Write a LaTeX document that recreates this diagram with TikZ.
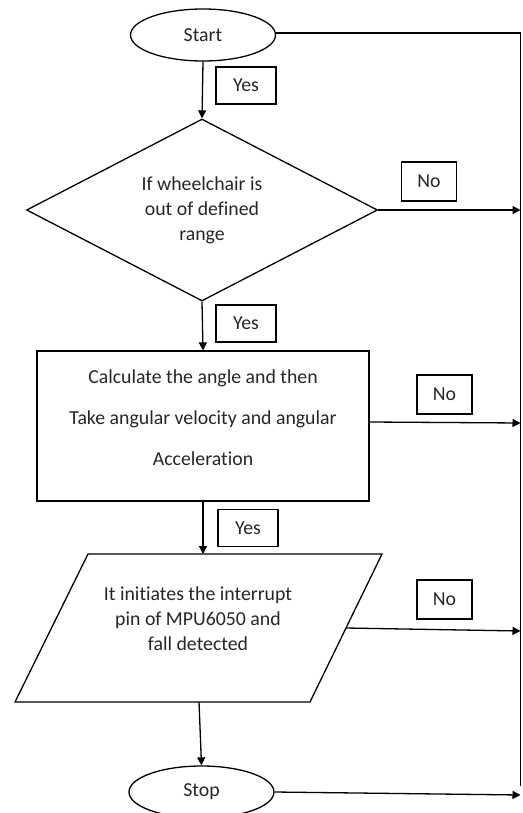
\documentclass[tikz,border=0pt]{standalone}
\usepackage{fontspec}
\setmainfont{Carlito}[Ligatures={NoCommon}]
\usetikzlibrary{shapes.geometric,arrows.meta}
\begin{document}
\begin{tikzpicture}[x=1pt,y=-1pt,line width=1.3pt,
  every node/.style={font=\fontsize{19.8}{25}\selectfont, text=black!85},
  term/.style={draw, ellipse, minimum width=145pt, minimum height=52pt, inner sep=0pt},
  lbl/.style={draw, line width=1.1pt, inner sep=0pt, minimum width=60pt, minimum height=37pt},
  nolbl/.style={draw, line width=1.1pt, inner sep=0pt, minimum width=55pt, minimum height=39pt},
  arr/.style={-{Triangle[length=8pt,width=8pt]}},
]
\useasboundingbox (0,0) rectangle (522,813);

% right-hand collector line
\coordinate (rtop) at (520.5,33);
\coordinate (rbot) at (520.5,786);

% terminals
\node[term] (start) at (203,35) {Start};
\node[term] (stop) at (201.5,792) {Stop};

% decision
\node[draw, diamond, aspect=1.93, minimum width=351pt, minimum height=182pt,
      inner sep=0pt, align=center] (dec) at (202,210) {If wheelchair is\\out of defined\\range};

% process
\node[draw, minimum width=332pt, minimum height=150pt, inner sep=0pt] (calc) at (203,426) {};
\node[align=center, font=\fontsize{19.8}{41}\selectfont] (calctext) at (203,418)
  {Calculate the angle and then\\Take angular velocity and angular\\Acceleration};

% parallelogram (input/output)
\coordinate (p1) at (88,554);
\coordinate (p2) at (382,554);
\coordinate (p3) at (310,702);
\coordinate (p4) at (15,702);
\draw (p1) -- (p2) -- (p3) -- (p4) -- cycle;
\node[align=center] (iotext) at (198,619) {It initiates the interrupt\\pin of MPU6050 and\\fall detected};
\coordinate (ptop) at (203,554);
\coordinate (pbot) at (199,702);
\coordinate (pright) at (346,628);

% labels
\node[lbl] (y1) at (246,85.5) {Yes};
\node[lbl] (y2) at (246,323.5) {Yes};
\node[lbl] (y3) at (248,528) {Yes};
\node[nolbl] (n1) at (429,181.5) {No};
\node[nolbl] (n2) at (444.5,394.5) {No};
\node[nolbl] (n3) at (444.5,599.5) {No};

% connectors
\draw (start.east |- rtop) -- (rtop) -- (rbot);
\draw[arr] (start.south) -- (dec.north);
\draw[arr] (dec.south) -- (calc.north);
\draw[arr] (calc.south) -- (ptop);
\draw[arr] (pbot) -- (stop.north);

\coordinate (e1) at (520.5,210);
\coordinate (e2) at (520.5,423);
\coordinate (e3) at (520.5,631);
\coordinate (e4) at (520.5,795);
\draw[arr] (dec.east) -- (e1);
\draw[arr] ([yshift=4pt]calc.east) -- (e2);
\draw[arr] (pright) -- (e3);
\draw[arr] (stop.east) -- (e4);
\end{tikzpicture}
\end{document}
